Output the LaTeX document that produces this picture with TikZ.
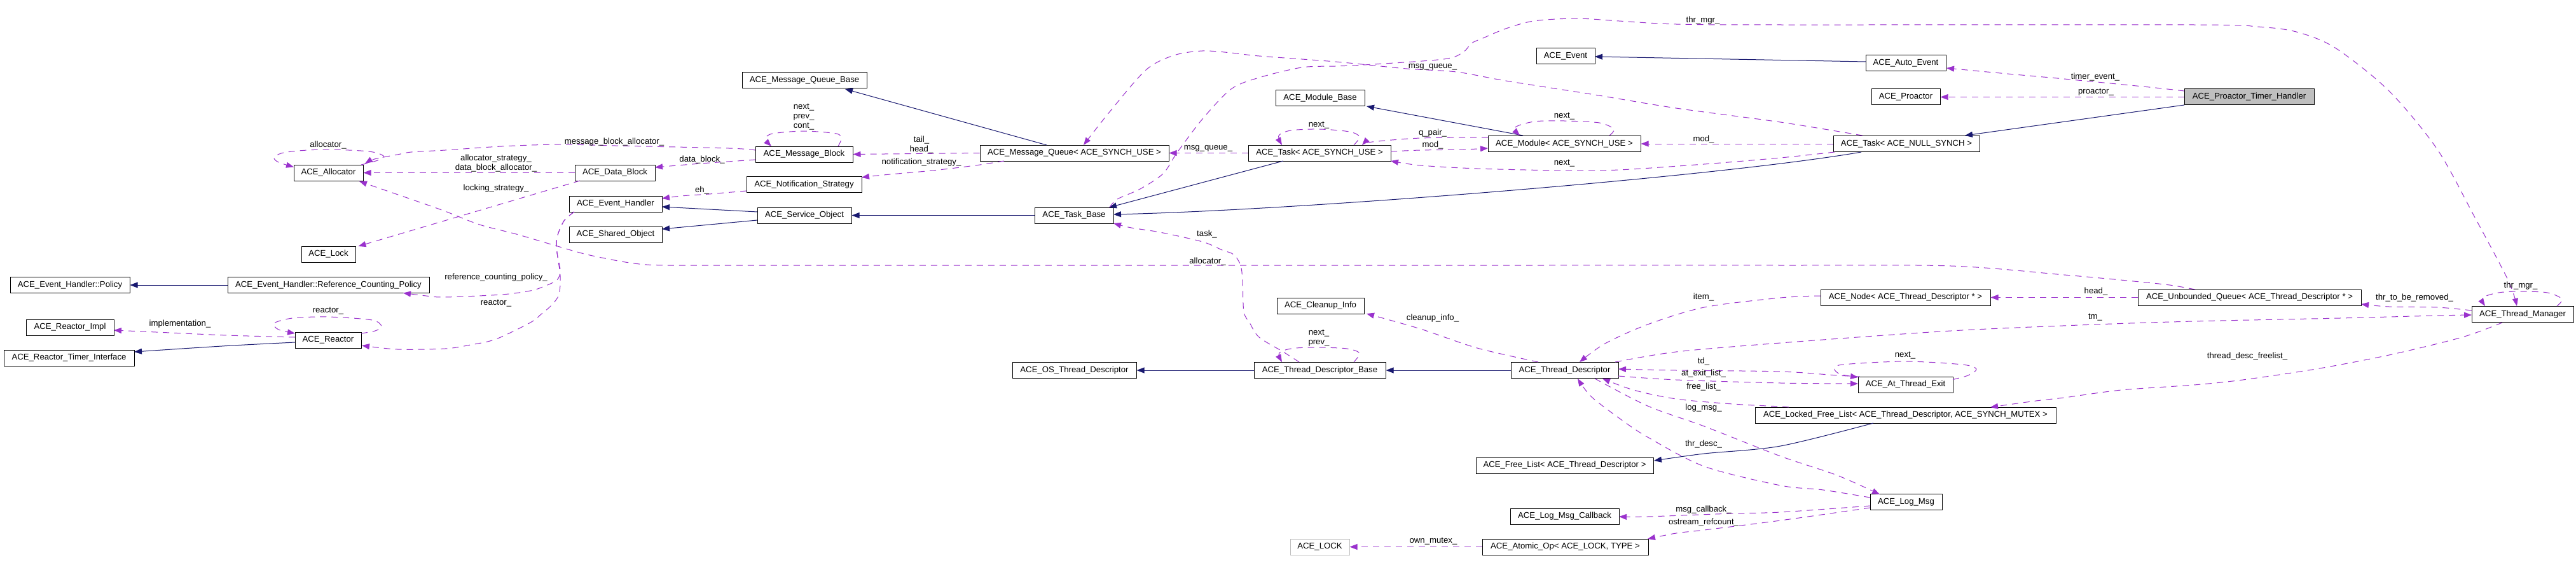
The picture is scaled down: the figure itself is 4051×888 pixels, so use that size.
\documentclass[tikz,border=0pt]{standalone}
\usepackage{fontspec}
\setmainfont{Liberation Sans}
\usetikzlibrary{arrows.meta,calc}
\definecolor{cInh}{HTML}{191970}
\definecolor{cUsg}{HTML}{9A32CD}
\definecolor{cGray}{HTML}{BFBFBF}
\newcommand\nfont{\fontsize{13.2}{15}\selectfont}
\tikzset{
 box/.style={draw=black, fill=white, line width=1pt, minimum height=25pt, inner sep=0pt, font=\nfont},
 lbl/.style={inner sep=0pt, font=\nfont, align=center},
 inhe/.style={draw=cInh, line width=1pt, -{Triangle[length=12pt,width=9pt]}},
 usg/.style={draw=cUsg, line width=1pt, dash pattern=on 10pt off 8pt, -{Triangle[length=12pt,width=9pt]}},
}
\begin{document}
\begin{tikzpicture}[x=1pt,y=-1pt]
\fill[white] (0,0) rectangle (4051,888);
\useasboundingbox (0,0) rectangle (4051,888);

% nodes
\node[box, minimum width=109pt] (Alloc) at (516.5,271.5) {ACE\_Allocator};
\node[box, minimum width=85pt] (Lock) at (516.5,399.5) {ACE\_Lock};
\node[box, minimum width=188pt] (Policy) at (110,448) {ACE\_Event\_Handler::Policy};
\node[box, minimum width=317pt] (RCP) at (516.5,448) {ACE\_Event\_Handler::Reference\_Counting\_Policy};
\node[box, minimum width=138pt] (RImpl) at (110,514.5) {ACE\_Reactor\_Impl};
\node[box, minimum width=104pt] (Reactor) at (516,534.5) {ACE\_Reactor};
\node[box, minimum width=205pt] (RTI) at (108.5,562.5) {ACE\_Reactor\_Timer\_Interface};
\node[box, minimum width=196pt] (MQB) at (1265,126.5) {ACE\_Message\_Queue\_Base};
\node[box, minimum width=153pt] (MB) at (1264.5,242.5) {ACE\_Message\_Block};
\node[box, minimum width=126pt] (DB) at (967,271.5) {ACE\_Data\_Block};
\node[box, minimum width=181pt] (NS) at (1264.5,290) {ACE\_Notification\_Strategy};
\node[box, minimum width=146pt] (EH) at (968,320.5) {ACE\_Event\_Handler};
\node[box, minimum width=148pt] (SO) at (1265,338.5) {ACE\_Service\_Object};
\node[box, minimum width=146pt] (ShO) at (968,368.5) {ACE\_Shared\_Object};
\node[box, minimum width=297pt] (MQ) at (1689.5,240.5) {ACE\_Message\_Queue< ACE\_SYNCH\_USE >};
\node[box, minimum width=124pt] (TB) at (1689,338.5) {ACE\_Task\_Base};
\node[box, minimum width=224pt] (TS) at (2075,240.5) {ACE\_Task< ACE\_SYNCH\_USE >};
\node[box, minimum width=140pt] (MBase) at (2076,154) {ACE\_Module\_Base};
\node[box, minimum width=137pt] (CI) at (2076.5,480.5) {ACE\_Cleanup\_Info};
\node[box, minimum width=195pt] (OSTD) at (1689.5,582) {ACE\_OS\_Thread\_Descriptor};
\node[box, minimum width=207pt] (TDB) at (2075.5,582) {ACE\_Thread\_Descriptor\_Base};
\node[box, draw=cGray, minimum width=93pt] (LOCK) at (2075.5,859.5) {ACE\_LOCK};
\node[box, minimum width=92pt] (Ev) at (2462,88.5) {ACE\_Event};
\node[box, minimum width=240pt] (Mod) at (2460,226) {ACE\_Module< ACE\_SYNCH\_USE >};
\node[box, minimum width=169pt] (TD) at (2460.5,582) {ACE\_Thread\_Descriptor};
\node[box, minimum width=279pt] (FL) at (2460.5,731.5) {ACE\_Free\_List< ACE\_Thread\_Descriptor >};
\node[box, minimum width=171pt] (LMC) at (2460.5,811.5) {ACE\_Log\_Msg\_Callback};
\node[box, minimum width=261pt] (AO) at (2461.5,859.5) {ACE\_Atomic\_Op< ACE\_LOCK, TYPE >};
\node[box, minimum width=126pt] (AE) at (2997,99.5) {ACE\_Auto\_Event};
\node[box, minimum width=108pt] (Pro) at (2997,152.5) {ACE\_Proactor};
\node[box, fill=cGray, minimum width=204pt] (PTH) at (3537,152.5) {ACE\_Proactor\_Timer\_Handler};
\node[box, minimum width=230pt] (TN) at (2998,226) {ACE\_Task< ACE\_NULL\_SYNCH >};
\node[box, minimum width=267pt] (Node) at (2996.5,467.5) {ACE\_Node< ACE\_Thread\_Descriptor * >};
\node[box, minimum width=351pt] (UQ) at (3537.5,467.5) {ACE\_Unbounded\_Queue< ACE\_Thread\_Descriptor * >};
\node[box, minimum width=149pt] (ATE) at (2996.5,604.5) {ACE\_At\_Thread\_Exit};
\node[box, minimum width=473pt] (LFL) at (2996.5,652.5) {ACE\_Locked\_Free\_List< ACE\_Thread\_Descriptor, ACE\_SYNCH\_MUTEX >};
\node[box, minimum width=113pt] (LM) at (2997.5,789) {ACE\_Log\_Msg};
\node[box, minimum width=160pt] (TM) at (3967,494) {ACE\_Thread\_Manager};

% inheritance
\draw[inhe] (RCP.west) -- (Policy.east);
\draw[inhe] plot[smooth] coordinates {($(Reactor)+(-52,3.5)$) (366,543) (286,548) ($(RTI)+(102.5,-9.5)$)};
\draw[inhe] ($(MQ)+(-43.5,-12.5)$) -- ($(MQB)+(64,13.5)$);
\draw[inhe] ($(SO)+(-74,-5.5)$) -- ($(EH)+(73,4.5)$);
\draw[inhe] ($(SO)+(-74,7.5)$) -- ($(ShO)+(73,-8.5)$);
\draw[inhe] (TB.west) -- (SO.east);
\draw[inhe] ($(TS)+(-57,12.5)$) -- ($(TB)+(55,-12.5)$);
\draw[inhe] ($(TN)+(-71,13)$) .. controls (2700,278) and (2050,330) .. ($(TB)+(62,-1.5)$);
\draw[inhe] ($(Mod)+(-65,-13)$) -- ($(MBase)+(73,13)$);
\draw[inhe] ($(AE)+(-63,-2.5)$) -- ($(Ev)+(46,0.5)$);
\draw[inhe] ($(PTH)+(-102,12.5)$) -- ($(TN)+(92,-13)$);
\draw[inhe] (TDB.west) -- (OSTD.east);
\draw[inhe] (TD.west) -- (TDB.east);
\draw[inhe] plot[smooth] coordinates {($(LFL)+(-50.5,12.5)$) (2800,701) (2680,713) ($(FL)+(140.5,-7.5)$)};

% usage
\draw[usg] plot[smooth] coordinates {($(Alloc)+(51.5,-12.5)$) (594,252) (603,245) (580,238) (516,235) (469,237) (442,241) (431,248) (438,255) ($(Alloc)+(-54.5,-9)$)};
\draw[usg] plot[smooth] coordinates {($(MB)+(-76.5,-6.5)$) (1146,233) (968,229) (879,227) (789,230) (700,236) (647,239) (625,243) (589,250) ($(Alloc)+(57.5,-14.5)$)};
\draw[usg] (DB.west) -- (Alloc.east);
\draw[usg] ($(DB)+(-55,12.5)$) -- ($(Lock)+(47,-12.5)$);
\draw[usg] plot[smooth] coordinates {($(UQ)+(-85.5,-12.5)$) (3412,448) (3345,441) (3246,432) (3068,418) (2800,417) (2400,417) (2000,417) (1600,417) (1200,417) (1044,417) (990,413) (923,400) (870,385) (812,368) (754,353) (700,332) (652,315) (594,295) ($(Alloc)+(48.5,13.5)$)};
\draw[usg] plot[smooth] coordinates {($(EH)+(-65,12.5)$) (887,347) (876,373) (876,397) (881,425) (876,440) (856,450) (834,457) (789,463) (700,467) (670,465) ($(RCP)+(117.5,12.5)$)};
\draw[usg] plot[smooth] coordinates {($(EH)+(-65,12.5)$) (887,347) (876,373) (876,397) (881,433) (879,463) (867,480) (852,493) (834,507) (780,533) (740,542) (700,548) (625,549) ($(Reactor)+(53,8.5)$)};
\draw[usg] plot[smooth] coordinates {($(Reactor)+(52,-10.5)$) (590,520) (600,513) (585,503) (516,498) (460,500) (431,508) (438,518) ($(Reactor)+(-52,-10.5)$)};
\draw[usg] plot[smooth] coordinates {($(Reactor)+(-52,-4.5)$) (357,527) (268,523) (223,521) ($(RImpl)+(69,4.5)$)};
\draw[usg] plot[smooth] coordinates {($(MB)+(53.5,-12.5)$) (1323,218) (1315,210) (1264,206) (1215,210) (1204,218) ($(MB)+(-51.5,-12.5)$)};
\draw[usg] plot[smooth] coordinates {($(MB)+(-76.5,8.5)$) (1102,257) ($(DB)+(63,-8.5)$)};
\draw[usg] plot[smooth] coordinates {($(NS)+(-90.5,10)$) (1115,305) (1071,308) ($(EH)+(73,-8.5)$)};
\draw[usg] (MQ.west) -- (MB.east);
\draw[usg] plot[smooth] coordinates {($(MQ)+(-110.5,12.5)$) (1534,260) (1467,268) (1400,274) (1370,277) ($(NS)+(90.5,-11)$)};
\draw[usg] (TS.west) -- (MQ.east);
\draw[usg] plot[smooth] coordinates {($(TN)+(-69,-13)$) (2800,192) (2636,170) (2502,148) (2368,127) (2290,113) (2212,108) (2100,97) (1980,88) (1936,83) (1891,80) (1846,87) (1802,110) (1744,177) ($(MQ)+(14.5,-12.5)$)};
\draw[usg] plot[smooth] coordinates {($(TB)+(56,-12.5)$) (1757,313) (1793,297) (1829,273) (1851,240) (1891,187) (1936,140) (1980,122) (2047,106) (2100,104) (2145,102) (2270,93) (2301,82) (2314,68) (2332,60) (2368,45) (2412,33) (2479,29) (2546,33) (2636,38) (2800,39) (3450,39) (3550,42) (3611,50) (3672,75) (3757,143) (3833,235) (3891,340) (3944,440) ($(TM)+(-9,-13)$)};
\draw[usg] plot[smooth] coordinates {($(TS)+(54,-12.5)$) (2138,215) (2122,207) (2075,203) (2030,205) (2011,213) ($(TS)+(-59,-12.5)$)};
\draw[usg] plot[smooth] coordinates {($(Mod)+(-120,-10)$) (2234,217) (2158,223) ($(TS)+(67,-12.5)$)};
\draw[usg] plot[smooth] coordinates {($(TS)+(112,-2.5)$) (2234,236) (2301,235) ($(Mod)+(-120,7)$)};
\draw[usg] plot[smooth] coordinates {($(Mod)+(71,-13)$) (2538,203) (2515,193) (2460,190) (2413,191) (2383,200) ($(Mod)+(-70,-13)$)};
\draw[usg] (TN.west) -- (Mod.east);
\draw[usg] plot[smooth] coordinates {($(TN)+(-113,13)$) (2800,248) (2680,258) (2546,267) (2457,268) (2323,265) (2234,260) ($(TS)+(112,12.5)$)};
\draw[usg] plot[smooth] coordinates {($(PTH)+(-102,-9.5)$) (3380,137) (3246,124) (3157,116) ($(AE)+(64,7.5)$)};
\draw[usg] (PTH.west) -- (Pro.east);
\draw[usg] plot[smooth] coordinates {($(TDB)+(53.5,-13)$) (2138,555) (2118,548) (2075,546) (2038,547) (2018,551) (2011,557) ($(TDB)+(-59.5,-13)$)};
\draw[usg] plot[smooth] coordinates {($(TDB)+(-32.5,-13)$) (2018,553) (1980,530) (1965,507) (1956,490) (1954,442) (1951,417) (1940,400) (1922,393) (1891,380) (1824,365) (1779,358) ($(TB)+(62,12.5)$)};
\draw[usg] plot[smooth] coordinates {($(TD)+(-41.5,-13)$) (2323,547) (2234,517) ($(CI)+(72.5,12.5)$)};
\draw[usg] plot[smooth] coordinates {($(Node)+(-133.5,-2.5)$) (2800,468) (2680,483) (2591,510) (2524,540) ($(TD)+(23.5,-13)$)};
\draw[usg] plot[smooth] coordinates {($(TD)+(79.5,-13)$) (2636,553) (2800,539) (3068,520) (3295,510) (3450,505) (3680,500) (3833,496) ($(TM)+(-80,1)$)};
\draw[usg] (UQ.west) -- (Node.east);
\draw[usg] plot[smooth] coordinates {($(TM)+(-80,-6)$) (3833,483) (3757,482) ($(UQ)+(175.5,10.5)$)};
\draw[usg] plot[smooth] coordinates {($(TM)+(54,-13)$) (4029,470) (4006,460) (3964,458) (3929,460) (3904,468) ($(TM)+(-59,-13)$)};
\draw[usg] plot[smooth] coordinates {($(TM)+(-32,13)$) (3872,530) (3757,558) (3642,580) (3527,597) (3450,605) (3336,613) (3246,625) (3202,630) ($(LFL)+(133.5,-12.5)$)};
\draw[usg] plot[smooth] coordinates {($(ATE)+(74.5,-8)$) (3095,590) (3108,580) (3086,573) (2996,568) (2898,573) (2885,580) (2894,588) ($(ATE)+(-74.5,-11.5)$)};
\draw[usg] plot[smooth] coordinates {($(ATE)+(-72,-12.5)$) (2889,590) (2800,584) (2636,582) ($(TD)+(84.5,-2)$)};
\draw[usg] plot[smooth] coordinates {($(TD)+(84.5,9)$) (2636,597) (2800,602) ($(ATE)+(-74.5,-1.5)$)};
\draw[usg] plot[smooth] coordinates {($(LFL)+(-183.5,-12.5)$) (2800,639) (2725,635) (2636,627) (2569,613) ($(TD)+(59.5,13)$)};
\draw[usg] plot[smooth] coordinates {($(TD)+(47.5,13)$) (2591,638) (2680,670) (2800,717) (2889,747) ($(LM)+(-41.5,-12)$)};
\draw[usg] plot[smooth] coordinates {($(LM)+(-56.5,-7)$) (2867,770) (2800,763) (2680,733) (2591,687) (2546,657) (2502,623) ($(TD)+(20.5,13)$)};
\draw[usg] plot[smooth] coordinates {($(LM)+(-56.5,6)$) (2800,805) (2725,807) (2591,812) ($(LMC)+(85.5,0.5)$)};
\draw[usg] plot[smooth] coordinates {($(LM)+(-56.5,9)$) (2800,818) (2680,833) (2636,838) ($(AO)+(129.5,-12.5)$)};
\draw[usg] (AO.west) -- (LOCK.east);

% labels
\node[lbl] (l1) at (516,228) {allocator\_};
\node[lbl] (l2) at (516,489) {reactor\_};
\node[lbl] (l3) at (283,509) {implementation\_};
\node[lbl] (l4) at (966,223) {message\_block\_allocator\_};
\node[lbl] (l5) at (780,256.5) {allocator\_strategy\_\\data\_block\_allocator\_};
\node[lbl] (l6) at (780,296) {locking\_strategy\_};
\node[lbl] (l7) at (780,436) {reference\_counting\_policy\_};
\node[lbl] (l8) at (780,477) {reactor\_};
\node[lbl] (l9) at (1264,184) {next\_\\prev\_\\cont\_};
\node[lbl] (l10) at (1104,251) {data\_block\_};
\node[lbl] (l11) at (1104,299) {eh\_};
\node[lbl] (l12) at (1449,227.5) {tail\_\\head\_};
\node[lbl] (l13) at (1449,255) {notification\_strategy\_};
\node[lbl] (l14) at (1900,233) {msg\_queue\_};
\node[lbl] (l15) at (1898,368) {task\_};
\node[lbl] (l16) at (1899,411) {allocator\_};
\node[lbl] (l17) at (2074,197) {next\_};
\node[lbl] (l18) at (2074,531) {next\_\\prev\_};
\node[lbl] (l19) at (2678,32) {thr\_mgr\_};
\node[lbl] (l20) at (2253,105) {msg\_queue\_};
\node[lbl] (l21) at (2460,183) {next\_};
\node[lbl] (l22) at (2253,209) {q\_pair\_};
\node[lbl] (l23) at (2253,228) {mod\_};
\node[lbl] (l24) at (2679,219) {mod\_};
\node[lbl] (l25) at (2460,257) {next\_};
\node[lbl] (l26) at (2253,500) {cleanup\_info\_};
\node[lbl] (l27) at (2679,467) {item\_};
\node[lbl] (l28) at (2679,568) {td\_};
\node[lbl] (l29) at (2679,587) {at\_exit\_list\_};
\node[lbl] (l30) at (2679,608) {free\_list\_};
\node[lbl] (l31) at (2679,641) {log\_msg\_};
\node[lbl] (l32) at (2679,698) {thr\_desc\_};
\node[lbl] (l33) at (2679,801) {msg\_callback\_};
\node[lbl] (l34) at (2679,821) {ostream\_refcount\_};
\node[lbl] (l35) at (2254,851) {own\_mutex\_};
\node[lbl] (l36) at (3295,121) {timer\_event\_};
\node[lbl] (l37) at (3296,145) {proactor\_};
\node[lbl] (l38) at (3296,458) {head\_};
\node[lbl] (l39) at (3295,499) {tm\_};
\node[lbl] (l40) at (2996,559) {next\_};
\node[lbl] (l41) at (3534,560) {thread\_desc\_freelist\_};
\node[lbl] (l42) at (3964,449) {thr\_mgr\_};
\node[lbl] (l43) at (3797,468) {thr\_to\_be\_removed\_};
\end{tikzpicture}
\end{document}
